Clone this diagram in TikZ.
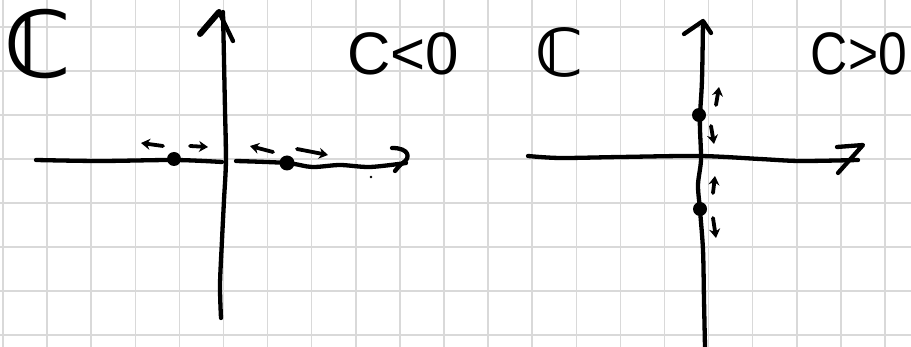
\documentclass[tikz,border=0pt]{standalone}
\usepackage{fontspec}
\usetikzlibrary{arrows.meta}
\newfontfamily\handfont{Liberation Sans}
\newfontfamily\symfont{DejaVu Sans}
\definecolor{gridgray}{RGB}{217,217,217}
\tikzset{
  pen/.style={line width=4.3pt, line cap=round, line join=round, black},
  thinpen/.style={line width=3.8pt, line cap=round, line join=round, black},
  flow/.style={thinpen, -{Stealth[length=9pt,width=11pt]}},
  fixpt/.style={circle, fill=black, inner sep=0pt, minimum size=14pt},
  gridline/.style={line width=1.5pt, gridgray},
}
\begin{document}
\begin{tikzpicture}[x=1pt, y=-1pt]
\useasboundingbox (0,0) rectangle (911,347);
\fill[white] (0,0) rectangle (911,347);

% squared paper
\foreach \k in {0,...,20} \draw[gridline] ({3+44.1*\k},0) -- ({3+44.1*\k},347);
\foreach \k in {0,...,7} \draw[gridline] (0,{27+44*\k}) -- (911,{27+44*\k});

% ---------------- left plane: c < 0 ----------------
\node[font=\symfont\bfseries\fontsize{92}{92}\selectfont, anchor=base] (planeL) at (38,78) {ℂ};
\node[font=\handfont\fontsize{60}{60}\selectfont, anchor=base] (signL) at (403,75) {C<0};

% imaginary axis
\draw[pen] plot[smooth] coordinates {(221,318) (220,285) (222,240) (224,200) (226,160) (225,110) (224,60) (223,12)};
\draw[pen, line width=6pt] (200,34) -- (219,12);
\draw[pen] (219,12) -- (233,41);

% real axis
\draw[pen] plot[smooth] coordinates {(36,160) (100,161) (175,160) (222,162)};
\draw[pen] plot[smooth] coordinates {(236,161) (287,163) (312,167) (340,165) (370,167) (406,163)};
\draw[pen] (392,148) .. controls (410,148) and (410,158) .. (404,162) .. controls (400,165) .. (395,171);
\fill (371,177) circle (1.3pt);

% fixed points
\node[fixpt] (pL1) at (174,159) {};
\node[fixpt, minimum size=15pt] (pL2) at (287,163) {};

% flow directions
\coordinate (aL1s) at (163,146); \coordinate (aL1e) at (141,143);
\coordinate (aL2s) at (190,146); \coordinate (aL2e) at (208,147);
\coordinate (aL3s) at (273,152); \coordinate (aL3e) at (250,146);
\coordinate (aL4s) at (297,149); \coordinate (aL4e) at (328,155);
\draw[flow] (aL1s) -- (aL1e);
\draw[flow] (aL2s) -- (aL2e);
\draw[flow] (aL3s) -- (aL3e);
\draw[flow] (aL4s) -- (aL4e);

% ---------------- right plane: c > 0 ----------------
\node[font=\symfont\bfseries\fontsize{66}{66}\selectfont, anchor=base] (planeR) at (560,77) {ℂ};
\node[font=\handfont\fontsize{60}{60}\selectfont, anchor=base, xscale=0.86] (signR) at (859,75) {C>0};

% imaginary axis
\draw[pen] plot[smooth] coordinates {(705,347) (704,300) (703,250) (700,210) (698,185) (701,160) (700,130) (700,115) (702,80) (703,22)};
\draw[pen] (684,34) -- (703,21) -- (711,33);

% real axis
\draw[pen] plot[smooth] coordinates {(528,156) (560,158) (620,157) (700,156) (760,159) (800,161) (858,160)};
\draw[pen] (837,147) -- (863,145) -- (838,173);

% fixed points
\node[fixpt] (pR1) at (699,115) {};
\node[fixpt] (pR2) at (700,209) {};

% flow directions
\coordinate (aR1s) at (716,105); \coordinate (aR1e) at (719,87);
\coordinate (aR2s) at (711,126); \coordinate (aR2e) at (714,144);
\coordinate (aR3s) at (713,193); \coordinate (aR3e) at (715,176);
\coordinate (aR4s) at (713,218); \coordinate (aR4e) at (716,238);
\draw[flow] (aR1s) -- (aR1e);
\draw[flow] (aR2s) -- (aR2e);
\draw[flow] (aR3s) -- (aR3e);
\draw[flow] (aR4s) -- (aR4e);
\end{tikzpicture}
\end{document}
